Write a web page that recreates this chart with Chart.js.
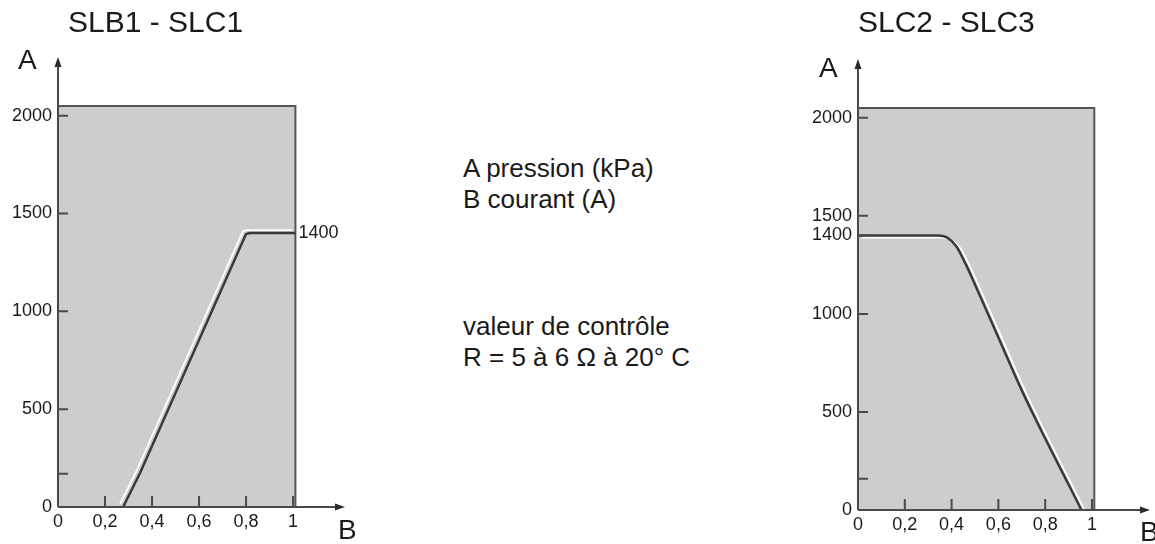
<!DOCTYPE html>
<html>
<head>
<meta charset="utf-8">
<script src="https://cdn.jsdelivr.net/npm/chart.js@4.4.0/dist/chart.umd.min.js"></script>
<style>
body { margin: 0; background: #fff; width: 1155px; height: 544px; overflow: hidden; position: relative;
       font-family: 'Liberation Sans', Arial, sans-serif; color: #1a1a1a; }
canvas { position: absolute; top: 0; }
.t { position: absolute; white-space: nowrap; line-height: 32px; font-size: 28px; }
.m { font-size: 26px; line-height: 31px; }
</style>
</head>
<body>
<canvas id="left" width="360" height="544" style="left:0"></canvas>
<canvas id="right" width="375" height="544" style="left:780px"></canvas>

<div class="t" style="left:68px;top:6px;font-size:30px">SLB1 - SLC1</div>
<div class="t" style="left:858px;top:6px;font-size:30px">SLC2 - SLC3</div>
<div class="t" style="left:18px;top:44px">A</div>
<div class="t" style="left:819px;top:52px">A</div>
<div class="t" style="left:338px;top:514px">B</div>
<div class="t" style="left:1140px;top:516px">B</div>

<div class="t m" style="left:463px;top:153px">A pression (kPa)<br>B courant (A)</div>
<div class="t m" style="left:463px;top:311px">valeur de contrôle<br>R = 5 à 6 Ω à 20° C</div>

<script>
// axis ticks
var xTicks = [0, 0.2, 0.4, 0.6, 0.8, 1];
var yTicksLeft = [0, 170, 500, 1000, 1500, 2000];
var yLabelsLeft = [0, 500, 1000, 1500, 2000];
var yTicksRight = [0, 160, 500, 1000, 1400, 1500, 2000];
var yLabelsRight = [0, 500, 1000, 1400, 1500, 2000];

// grey operating zone (B current, A pressure)
var zoneB = [0, 1.01, 1.01];
var zoneA = [2050, 2050, 0];

// SLB1 - SLC1 curve
var leftB = [0.277, 0.349, 0.80, 0.815, 1.01];
var leftA = [0, 174, 1395, 1400, 1400];
var leftNote = 1400;

// SLC2 - SLC3 curve
var rightB = [0, 0.34, 0.38, 0.42, 0.46, 0.5, 0.6, 0.7, 0.8, 0.9, 0.955];
var rightA = [1400, 1400, 1390, 1345, 1255, 1150, 880, 610, 365, 130, 0];

function pts(bs, as) {
  return bs.map(function (b, i) { return { x: b, y: as[i] }; });
}

var tickFont = { family: 'Liberation Sans', size: 18 };

var deco = {
  id: 'deco',
  beforeDatasetDraw: function (chart, args) {
    var s = chart.data.datasets[args.index].shift;
    if (s) { chart.ctx.save(); chart.ctx.translate(s[0], s[1]); }
  },
  afterDatasetDraw: function (chart, args) {
    if (chart.data.datasets[args.index].shift) chart.ctx.restore();
  },
  afterDatasetsDraw: function (chart, args, opts) {
    var ctx = chart.ctx, xs = chart.scales.x, ys = chart.scales.y, a = chart.chartArea;
    var x0 = xs.getPixelForValue(0), y0 = ys.getPixelForValue(0);
    ctx.save();
    ctx.strokeStyle = '#4a4a4a';
    ctx.fillStyle = '#2a2a2a';
    ctx.lineWidth = 2;
    ctx.beginPath();
    ctx.moveTo(x0, y0); ctx.lineTo(a.right - 8, y0);
    ctx.moveTo(x0, y0); ctx.lineTo(x0, a.top + 8);
    ys.ticks.forEach(function (t) {
      if (!t.value) return;
      var y = ys.getPixelForValue(t.value);
      ctx.moveTo(x0, y); ctx.lineTo(x0 + 10, y);
    });
    xs.ticks.forEach(function (t) {
      if (!t.value) return;
      var x = xs.getPixelForValue(t.value);
      ctx.moveTo(x, y0); ctx.lineTo(x, y0 - 11);
    });
    ctx.stroke();
    ctx.beginPath();
    ctx.moveTo(a.right, y0); ctx.lineTo(a.right - 10, y0 - 3.5); ctx.lineTo(a.right - 10, y0 + 3.5);
    ctx.closePath();
    ctx.moveTo(x0, a.top); ctx.lineTo(x0 - 3.5, a.top + 10); ctx.lineTo(x0 + 3.5, a.top + 10);
    ctx.closePath();
    ctx.fill();
    if (opts.note) {
      ctx.font = '18px "Liberation Sans"';
      ctx.fillStyle = '#1a1a1a';
      ctx.textBaseline = 'middle';
      ctx.fillText(String(opts.note), xs.getPixelForValue(zoneB[1]) + 3, ys.getPixelForValue(opts.note));
    }
    ctx.restore();
  }
};

function makeChart(id, o) {
  var curve = pts(o.b, o.a);
  var mode = o.smooth ? 'monotone' : 'default';
  return new Chart(document.getElementById(id), {
    type: 'line',
    data: {
      datasets: [
        { data: curve, borderColor: '#3a3a3a', borderWidth: 2.5, pointRadius: 0, fill: false,
          tension: 0, cubicInterpolationMode: mode },
        { data: curve, borderColor: '#ffffff', borderWidth: 1.8, pointRadius: 0, fill: false,
          tension: 0, cubicInterpolationMode: mode, shift: o.shift },
        { data: pts(zoneB, zoneA), borderColor: '#555555', borderWidth: 2, backgroundColor: '#cdcdcd',
          fill: 'origin', pointRadius: 0, tension: 0 }
      ]
    },
    options: {
      responsive: false,
      animation: false,
      layout: { padding: { top: o.padTop, right: o.padRight, left: 0, bottom: 0 } },
      plugins: { legend: { display: false }, tooltip: { enabled: false }, deco: { note: o.note } },
      scales: {
        x: {
          type: 'linear', min: 0, max: o.xMax,
          grid: { display: false, drawTicks: false }, border: { display: false },
          afterBuildTicks: function (s) { s.ticks = xTicks.map(function (v) { return { value: v }; }); },
          afterFit: function (s) { s.height = o.xHeight; },
          ticks: { padding: 4, color: '#1a1a1a', font: tickFont, maxRotation: 0, autoSkip: false,
                   callback: function (v) { return String(v).replace('.', ','); } }
        },
        y: {
          type: 'linear', min: 0, max: 2300,
          grid: { display: false, drawTicks: false }, border: { display: false },
          afterBuildTicks: function (s) { s.ticks = o.yTicks.map(function (v) { return { value: v }; }); },
          afterFit: function (s) { s.width = o.yWidth; },
          ticks: { padding: 6, color: '#1a1a1a', font: tickFont, autoSkip: false,
                   callback: function (v) { return o.yLabels.indexOf(v) >= 0 ? String(v) : ''; } }
        }
      }
    },
    plugins: [deco]
  });
}

window.onload = function () {
  makeChart('left', { b: leftB, a: leftA, yTicks: yTicksLeft, yLabels: yLabelsLeft, shift: [-3, -3],
    yWidth: 58, xHeight: 37, padTop: 57, padRight: 15, xMax: 1.221, note: leftNote, smooth: false });
  makeChart('right', { b: rightB, a: rightA, yTicks: yTicksRight, yLabels: yLabelsRight, shift: [4, 2],
    yWidth: 78, xHeight: 34, padTop: 59, padRight: 5, xMax: 1.248, note: null, smooth: true });
};
</script>
</body>
</html>
